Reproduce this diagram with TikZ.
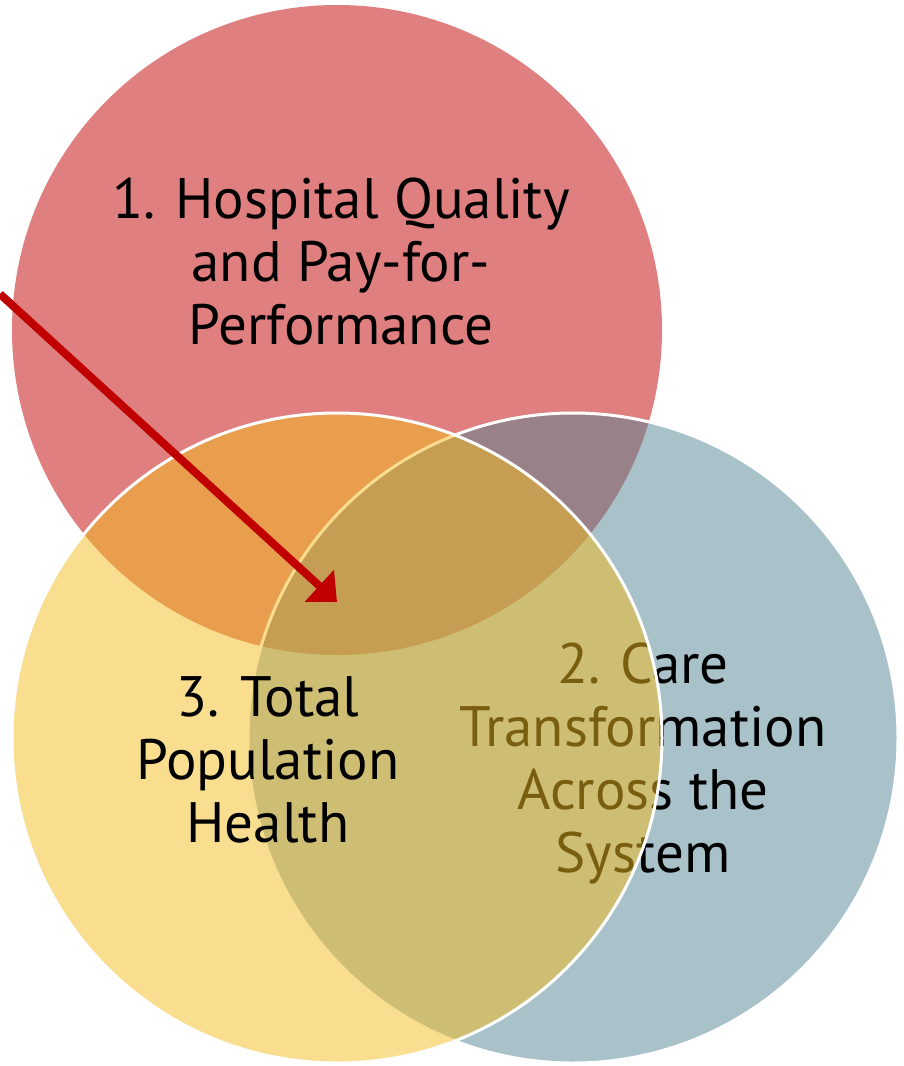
\documentclass[tikz,border=0pt]{standalone}
\usepackage{fontspec}
\setmainfont{PT Sans}
\usetikzlibrary{arrows.meta}

\definecolor{redbase}{RGB}{192,0,0}
\definecolor{bluebase}{RGB}{83,131,147}
\definecolor{yellowbase}{RGB}{243,189,31}

\tikzset{
  ring/.style={circle, minimum size=650pt, inner sep=0pt, outer sep=0pt,
    fill opacity=0.5},
  ringedge/.style={draw=white, draw opacity=1, line width=3pt},
  label/.style={align=center, inner sep=0pt, text=black, text opacity=1,
    font=\fontsize{57}{63}\selectfont},
  pointer/.style={draw=redbase, line width=8pt,
    -{Triangle[length=24pt,width=42pt]}}
}

\begin{document}
\begin{tikzpicture}[x=1pt,y=1pt]
  \useasboundingbox (0,0) rectangle (903,-1066);

  % circle 1: hospital quality
  \node[ring, fill=redbase] (hospital) at (337,-330) {};
  % circle 2: care transformation, with its label beneath circle 3
  \node[ring, ringedge, fill=bluebase] (care) at (573,-738) {};
  \node[label] (caretext) at (643,-764)
    {2. Care\\Transformation\\Across the\\System};
  % circle 3: population health
  \node[ring, ringedge, fill=yellowbase] (population) at (337,-738) {};

  \node[label] (hospitaltext) at (341,-262)
    {1. Hospital Quality\\and Pay-for-\\Performance};
  \node[label] (populationtext) at (268,-760)
    {3. Total\\Population\\Health};

  % arrow pointing into the common overlap
  \coordinate (arrowstart) at (0,-294);
  \coordinate (arrowtip) at (337,-602);
  \draw[pointer] (arrowstart) -- (arrowtip);
\end{tikzpicture}
\end{document}
